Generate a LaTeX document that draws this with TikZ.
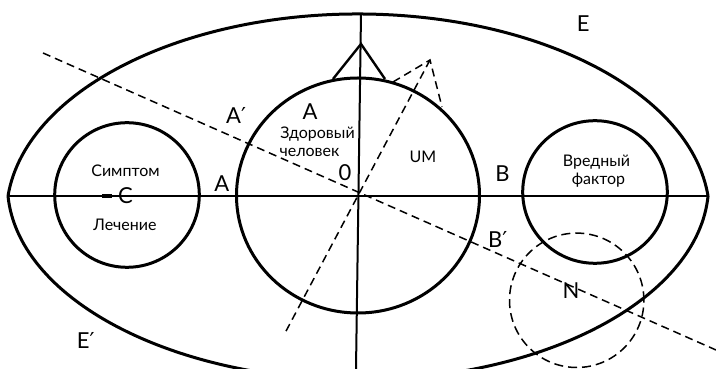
\documentclass[tikz,border=0pt]{standalone}
\usepackage{fontspec}
\setmainfont{Lato}
\newfontfamily\primefont{DejaVu Sans}
\newcommand\prm{{\primefont ′}}

\begin{document}
\begin{tikzpicture}[x=1pt,y=1pt,line cap=butt,line join=miter,
                    rim/.style={line width=3pt},
                    axis/.style={line width=2pt},
                    dashline/.style={line width=1.5pt,dash pattern=on 8pt off 5pt},
                    lbl/.style={inner sep=0pt,anchor=base,font=\fontsize{22pt}{26pt}\selectfont},
                    txt/.style={inner sep=0pt,anchor=base,font=\fontsize{16pt}{19pt}\selectfont}]
  \path[use as bounding box] (0,0) rectangle (716,369);   % 源画布 716×369 px，1px＝1pt
  % ---- 关键点（源 px → y 翻转：Y＝369−y） ----
  \coordinate (L)  at (  8,173);    % px(  8,196) 外轮廓左尖
  \coordinate (R)  at (708,173);    % px(708,196) 外轮廓右尖
  \coordinate (T)  at (361,355);    % px(361, 14) 竖轴上端
  \coordinate (Tb) at (356,  0);    % px(356,369) 竖轴下端
  \coordinate (O)  at (358,173);    % 原点 0
  \coordinate (Hc) at (358,173.5);  % 中圆圆心
  \coordinate (Sc) at (127,174);    % 左圆圆心
  \coordinate (Vc) at (595,177);    % 右圆圆心
  \coordinate (Nc) at (576.7,68.7); % 虚线圆圆心
  \coordinate (P)  at (361,325);    % 实线三角顶点 px(361,44)
  \coordinate (P1) at (333,290);    % px(333,79)
  \coordinate (P2) at (385,290);    % px(385,79)
  \coordinate (Q)  at (430,309);    % 虚线三角顶点 px(430,60)
  \coordinate (Q1) at (393,287);    % px(393,82)
  \coordinate (Q2) at (442,262);    % px(442,107)
  \coordinate (Qe) at (285, 36);    % 过原点虚线下端 px(285,333)
  \coordinate (D1) at ( 43,316);    % 斜虚线 px( 43, 53)
  \coordinate (D2) at (716, 19);    % 斜虚线 px(716,350)
  % ---- 外轮廓：上下两段椭圆弧，两端成尖角 ----
  \draw[rim] (L) arc[start angle=174.58,end angle=5.42,x radius=351.6,y radius=201];
  \draw[rim] (L) arc[start angle=183.23,end angle=356.77,x radius=350.6,y radius=195];
  % ---- 坐标轴 ----
  \draw[axis] (L) -- (R);          % 横轴
  \draw[axis] (T) -- (Tb);         % 竖轴（略倾）
  % ---- 三个实线圆 ----
  \draw[rim] (Hc) ellipse[x radius=121.5,y radius=117.5];   % 健康人
  \draw[rim] (Sc) circle[radius=72.3];                      % 症状/治疗
  \draw[rim] (Vc) ellipse[x radius=72.3,y radius=71.3];     % 有害因素
  % ---- 顶部实线三角 ----
  \draw[axis,line width=2.4pt] (P1) -- (P) -- (P2);
  % ---- 虚线 ----
  \draw[dashline] (Q1) -- (Q) -- (Q2);
  \draw[dashline] (Q) -- (Qe);
  \draw[dashline] (D1) -- (D2);
  \draw[dashline,dash pattern=on 9pt off 5pt] (Nc) circle[radius=67.2];
  % C 左侧粗短线
  \draw[line width=3.4pt] (102,173) -- (112,173);
  % ---- 标签 ----
  \node[lbl] (nE)  at (583.3,337.3) {E};
  \node[lbl,anchor=base west] (nEp) at (76.7,20.7) {E\prm};
  \node[lbl,anchor=base west] (nAp) at (226,245) {A\prm};
  \node[lbl] (nA1) at (310,249.7) {A};
  \node[lbl] (nA2) at (221.7,177.3) {A};
  \node[lbl] (nO)  at (345,188.3) {0};
  \node[lbl] (nB)  at (502.5,187.3) {B};
  \node[lbl,anchor=base west] (nBp) at (488,121.7) {B\prm};
  \node[lbl] (nN)  at (571,70.7) {N};
  \node[lbl] (nC)  at (125.5,165) {C};
  \node[txt] (nUM) at (423,206.3) {UM};
  \node[txt] (nZd) at (317.5,230.7) {Здоровый};
  \node[txt] (nCh) at (309.5,212.3) {человек};
  \node[txt] (nSy) at (125.5,192.3) {Симптом};
  \node[txt] (nLe) at (125,138.3) {Лечение};
  \node[txt] (nVr) at (596.5,202.3) {Вредный};
  \node[txt] (nFa) at (598.5,184) {фактор};
\end{tikzpicture}
\end{document}
